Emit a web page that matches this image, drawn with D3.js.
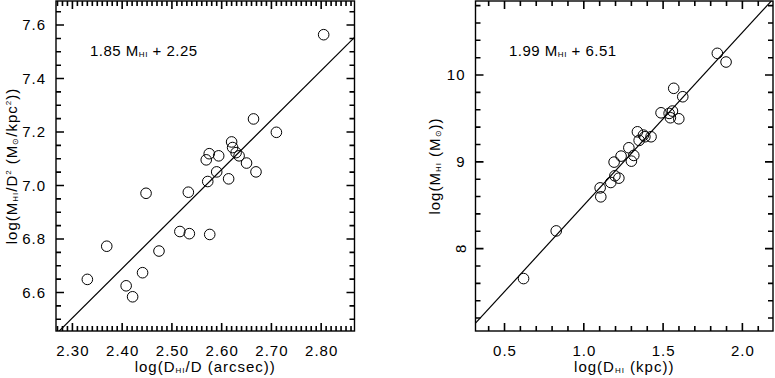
<!DOCTYPE html>
<html>
<head>
<meta charset="utf-8">
<script src="https://cdn.jsdelivr.net/npm/d3@7"></script>
<style>
  body { margin: 0; background: #fff; }
  svg { display: block; }
  text { font-family: "Liberation Sans", Arial, sans-serif; fill: #000; }
</style>
</head>
<body>
<div id="chart"></div>
<script>
// linke Grafik: log(D_HI/D) gegen log(M_HI/D^2)
const logDratio = [2.805, 2.664, 2.710, 2.620, 2.622, 2.575, 2.569, 2.594, 2.629, 2.635, 2.650, 2.669, 2.590,
    2.614, 2.572, 2.448, 2.533, 2.516, 2.535, 2.576, 2.369, 2.474, 2.441, 2.330, 2.408, 2.421];
const logMperD2 = [7.564, 7.249, 7.199, 7.163, 7.142, 7.119, 7.096, 7.111, 7.123, 7.111, 7.084, 7.051, 7.051,
    7.025, 7.015, 6.971, 6.975, 6.828, 6.820, 6.817, 6.773, 6.755, 6.674, 6.649, 6.625, 6.584];

// rechte Grafik: log(D_HI) gegen log(M_HI)
const logDkpc = [1.842, 1.897, 1.567, 1.624, 1.487, 1.538, 1.559, 1.546, 1.599, 1.338, 1.376, 1.385, 1.424,
    1.349, 1.284, 1.315, 1.300, 1.235, 1.191, 1.196, 1.221, 1.170, 1.103, 1.107, 0.826, 0.620];
const logMHI = [10.250, 10.150, 9.847, 9.750, 9.565, 9.558, 9.585, 9.508, 9.496, 9.346, 9.308, 9.289, 9.289,
    9.247, 9.162, 9.074, 9.008, 9.066, 8.997, 8.839, 8.812, 8.762, 8.700, 8.597, 8.204, 7.655];

// Fit: Steigung, Achsenabschnitt
const fitLeft = [1.85, 2.25];
const fitRight = [1.99, 6.51];

const xTicksLeft = [2.30, 2.40, 2.50, 2.60, 2.70, 2.80];
const yTicksLeft = [6.6, 6.8, 7.0, 7.2, 7.4, 7.6];
const xTicksRight = [0.5, 1.0, 1.5, 2.0];
const yTicksRight = [8, 9, 10];

const W = 775, H = 378;
const svg = d3.select("#chart").append("svg").attr("width", W).attr("height", H);

function panel(opt) {
    const x = d3.scaleLinear().domain(opt.xdom).range([opt.left, opt.right]);
    const y = d3.scaleLinear().domain(opt.ydom).range([opt.bottom, opt.top]);
    const g = svg.append("g");

    const cid = "clip" + opt.id;
    g.append("clipPath").attr("id", cid).append("rect")
        .attr("x", opt.left).attr("y", opt.top)
        .attr("width", opt.right - opt.left).attr("height", opt.bottom - opt.top);

    const minorX = d3.range(Math.ceil(opt.xdom[0] / opt.xminor - 1e-6), Math.floor(opt.xdom[1] / opt.xminor + 1e-6) + 1).map(d => d * opt.xminor);
    const minorY = d3.range(Math.ceil(opt.ydom[0] / opt.yminor - 1e-6), Math.floor(opt.ydom[1] / opt.yminor + 1e-6) + 1).map(d => d * opt.yminor);

    // Beschriftung ueber d3-Achsen, Striche extra
    const noLines = s => { s.select(".domain").remove(); s.selectAll(".tick line").remove(); };
    g.append("g").attr("transform", `translate(0,${opt.bottom})`)
        .call(d3.axisBottom(x).tickValues(opt.xticks).tickSize(0).tickPadding(14).tickFormat(opt.xfmt)).call(noLines);
    const yl = g.append("g").attr("transform", `translate(${opt.left},0)`)
        .call(d3.axisLeft(y).tickValues(opt.yticks).tickSize(0).tickPadding(opt.ypad).tickFormat(opt.yfmt)).call(noLines);
    g.selectAll(".tick text").style("font-size", "15px").style("letter-spacing", "1px")
        .style("font-family", '"Liberation Sans", Arial, sans-serif');

    // Striche nach innen
    const isMajor = (v, arr) => arr.some(a => Math.abs(a - v) < 1e-6);
    const tk = [];
    minorX.forEach(v => {
        const px = x(v);
        const len = isMajor(v, opt.xticks) ? 8 : 5;
        tk.push([px, opt.bottom, px, opt.bottom - len]);
        tk.push([px, opt.top, px, opt.top + len]);
    });
    minorY.forEach(v => {
        const py = y(v);
        const len = isMajor(v, opt.yticks) ? 8 : 5;
        tk.push([opt.left, py, opt.left + len, py]);
        tk.push([opt.right, py, opt.right - len, py]);
    });
    g.append("path")
        .attr("d", tk.map(d => `M${d[0]},${d[1]}L${d[2]},${d[3]}`).join(""))
        .attr("fill", "none").attr("stroke", "#000").attr("stroke-width", 1.6);

    // Rahmen
    g.append("rect").attr("x", opt.left).attr("y", opt.top)
        .attr("width", opt.right - opt.left).attr("height", opt.bottom - opt.top)
        .attr("fill", "none").attr("stroke", "#000").attr("stroke-width", 1.4);

    // Ausgleichsgerade
    g.append("path")
        .datum(opt.xdom)
        .attr("clip-path", `url(#${cid})`)
        .attr("fill", "none").attr("stroke", "#000").attr("stroke-width", 1.2)
        .attr("d", d3.line().x(d => x(d)).y(d => y(opt.fit[0] * d + opt.fit[1])));

    // Messpunkte
    g.selectAll("circle.pt").data(opt.xs.map((d, i) => [d, opt.ys[i]])).enter()
        .append("circle").attr("class", "pt")
        .attr("cx", d => x(d[0])).attr("cy", d => y(d[1])).attr("r", 5.3)
        .attr("fill", "none").attr("stroke", "#000").attr("stroke-width", 1);

    return {g, x, y, yl};
}

const L = panel({
    id: "L", xdom: [2.267, 2.867], ydom: [6.456, 7.690],
    left: 56, right: 354.5, top: 1, bottom: 331,
    xticks: xTicksLeft, yticks: yTicksLeft, xminor: 0.01, yminor: 0.05,
    xfmt: d3.format(".2f"), yfmt: d3.format(".1f"), ypad: 10,
    fit: fitLeft, xs: logDratio, ys: logMperD2
});

const R = panel({
    id: "R", xdom: [0.317, 2.193], ydom: [7.051, 10.853],
    left: 475.5, right: 773, top: 1, bottom: 331,
    xticks: xTicksRight, yticks: yTicksRight, xminor: 0.1, yminor: 0.2,
    xfmt: d3.format(".1f"), yfmt: d3.format("d"), ypad: 10,
    fit: fitRight, xs: logDkpc, ys: logMHI
});

// die "8" steht im Original quer
R.yl.selectAll(".tick text").filter(d => d === 8)
    .attr("transform", function () {
        const b = this.getBBox();
        return `rotate(-90, ${b.x + b.width / 2}, ${b.y + b.height / 2})`;
    });

const fs = 15;
function sub(t, s, dy) {
    t.append("tspan").text(s).style("font-size", "8px").attr("dy", dy);
}

// Fit-Texte
let t = svg.append("text").attr("x", 90).attr("y", 56).style("font-size", fs + "px").style("letter-spacing", "0.5px");
t.append("tspan").text("1.85 M");
sub(t, "HI", 1);
t.append("tspan").text(" + 2.25").attr("dy", -1);

t = svg.append("text").attr("x", 509).attr("y", 56).style("font-size", fs + "px").style("letter-spacing", "0.5px");
t.append("tspan").text("1.99 M");
sub(t, "HI", 1);
t.append("tspan").text(" + 6.51").attr("dy", -1);

// Achsentitel
t = svg.append("text").attr("x", (56 + 354.5) / 2).attr("y", 372).attr("text-anchor", "middle")
    .style("font-size", fs + "px").style("letter-spacing", "1px");
t.append("tspan").text("log(D");
sub(t, "HI", 1);
t.append("tspan").text("/D (arcsec))").attr("dy", -1);

t = svg.append("text").attr("x", (475.5 + 773) / 2).attr("y", 372).attr("text-anchor", "middle")
    .style("font-size", fs + "px").style("letter-spacing", "1px");
t.append("tspan").text("log(D");
sub(t, "HI", 1);
t.append("tspan").text(" (kpc))").attr("dy", -1);

t = svg.append("text").attr("transform", "translate(17,166) rotate(-90)").attr("text-anchor", "middle")
    .style("font-size", fs + "px").style("letter-spacing", "1px");
t.append("tspan").text("log(M");
sub(t, "HI", 1);
t.append("tspan").text("/D").attr("dy", -1);
t.append("tspan").text("2").style("font-size", "8px").attr("dy", -6);
t.append("tspan").text(" (M").attr("dy", 6);
sub(t, "⊙", 1);
t.append("tspan").text("/kpc").attr("dy", -1);
t.append("tspan").text("2").style("font-size", "8px").attr("dy", -6);
t.append("tspan").text("))").attr("dy", 6);

t = svg.append("text").attr("transform", "translate(440,166) rotate(-90)").attr("text-anchor", "middle")
    .style("font-size", fs + "px").style("letter-spacing", "1px");
t.append("tspan").text("log(M");
sub(t, "HI", 1);
t.append("tspan").text(" (M").attr("dy", -1);
sub(t, "⊙", 1);
t.append("tspan").text("))").attr("dy", -1);
</script>
</body>
</html>
